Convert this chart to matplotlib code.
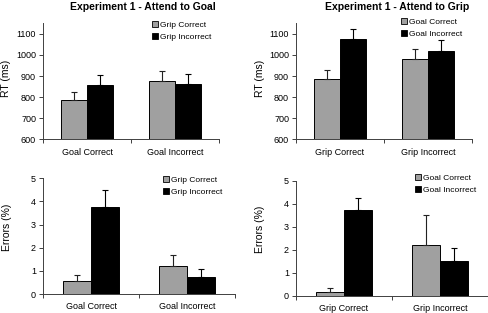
import matplotlib
matplotlib.use('Agg')
import matplotlib.pyplot as plt
from matplotlib.patches import Patch

plt.rcParams['font.family'] = ['Liberation Sans', 'DejaVu Sans']

# Dados
goal_cats = ['Goal Correct', 'Goal Incorrect']
grip_cats = ['Grip Correct', 'Grip Incorrect']

# Attend to Goal - RT (ms)
goal_rt_gc = [784, 877]
goal_rt_gc_err = [38, 48]
goal_rt_gi = [859, 861]
goal_rt_gi_err = [47, 49]

# Attend to Grip - RT (ms)
grip_rt_gc = [885, 979]
grip_rt_gc_err = [42, 47]
grip_rt_gi = [1075, 1017]
grip_rt_gi_err = [49, 52]

# Attend to Goal - Errors (%)
goal_err_gc = [0.57, 1.21]
goal_err_gc_err = [0.25, 0.46]
goal_err_gi = [3.78, 0.72]
goal_err_gi_err = [0.72, 0.35]

# Attend to Grip - Errors (%)
grip_err_gc = [0.17, 2.19]
grip_err_gc_err = [0.15, 1.33]
grip_err_gi = [3.71, 1.51]
grip_err_gi_err = [0.52, 0.58]

W, H = 488, 313
fig = plt.figure(figsize=(W / 100, H / 100), dpi=100)

GRAY = '#a0a0a0'


def px(x, y):
    return x / W, 1 - y / H


def painel(rect, cats, a, a_err, b, b_err, ylim, yticks, nomes, leg_xy, ylabel, ylab_xy):
    x0, y0, x1, y1 = rect
    ax = fig.add_axes([x0 / W, 1 - y1 / H, (x1 - x0) / W, (y1 - y0) / H])
    pos = [0.5, 1.5]
    w = 0.29
    ax.bar([p - w / 2 for p in pos], a, w, color=GRAY, edgecolor='black', linewidth=0.7,
           yerr=[[0, 0], a_err], error_kw=dict(ecolor='#222222', elinewidth=0.8, capsize=2, capthick=0.8))
    ax.bar([p + w / 2 for p in pos], b, w, color='black', edgecolor='black', linewidth=0.7,
           yerr=[[0, 0], b_err], error_kw=dict(ecolor='black', elinewidth=0.8, capsize=2, capthick=0.8))
    ax.set_xlim(0, 2)
    ax.set_ylim(*ylim)
    ax.set_yticks(yticks)
    ax.set_xticks(pos)
    ax.set_xticklabels(cats)
    ax.set_xticks([0, 1, 2], minor=True)
    ax.tick_params(axis='x', which='major', length=0, pad=6, labelsize=6.5)
    ax.tick_params(axis='x', which='minor', length=3, direction='out', color='#404040', width=0.7)
    ax.tick_params(axis='y', length=3, direction='out', color='#404040', width=0.7, labelsize=6.5, pad=2)
    for s in ['top', 'right']:
        ax.spines[s].set_visible(False)
    for s in ['left', 'bottom']:
        ax.spines[s].set_color('#404040')
        ax.spines[s].set_linewidth(0.7)
    handles = [Patch(facecolor=GRAY, edgecolor='black', linewidth=0.6),
               Patch(facecolor='black', edgecolor='black', linewidth=0.6)]
    ax.legend(handles, nomes, loc='upper left', bbox_to_anchor=px(*leg_xy), bbox_transform=fig.transFigure,
              frameon=False, fontsize=6, handlelength=0.75, handleheight=0.75, handletextpad=0.25,
              labelspacing=0.45, borderpad=0, borderaxespad=0)
    fig.text(*px(*ylab_xy), ylabel, rotation=90, ha='center', va='center', fontsize=7.5)
    return ax


painel((43, 23.3, 219, 139.3), goal_cats, goal_rt_gc, goal_rt_gc_err, goal_rt_gi, goal_rt_gi_err,
       (600, 1150), range(600, 1101, 100), ['Grip Correct', 'Grip Incorrect'], (151.5, 21), 'RT (ms)', (6, 78))
painel((296, 23.3, 472, 139.3), grip_cats, grip_rt_gc, grip_rt_gc_err, grip_rt_gi, grip_rt_gi_err,
       (600, 1150), range(600, 1101, 100), ['Goal Correct', 'Goal Incorrect'], (401, 18), 'RT (ms)', (260, 78))
painel((43, 178.3, 235, 294), goal_cats, goal_err_gc, goal_err_gc_err, goal_err_gi, goal_err_gi_err,
       (0, 5), range(0, 6), ['Grip Correct', 'Grip Incorrect'], (163, 176), 'Errors (%)', (7.5, 227.5))
painel((296, 180.7, 488, 295.7), grip_cats, grip_err_gc, grip_err_gc_err, grip_err_gi, grip_err_gi_err,
       (0, 5), range(0, 6), ['Goal Correct', 'Goal Incorrect'], (415, 174), 'Errors (%)', (260, 229))

fig.text(*px(143, 7.5), 'Experiment 1 - Attend to Goal', ha='center', va='center', fontsize=7.5, fontweight='bold')
fig.text(*px(397, 7.5), 'Experiment 1 - Attend to Grip', ha='center', va='center', fontsize=7.5, fontweight='bold')

fig.savefig('out.png', dpi=100)
